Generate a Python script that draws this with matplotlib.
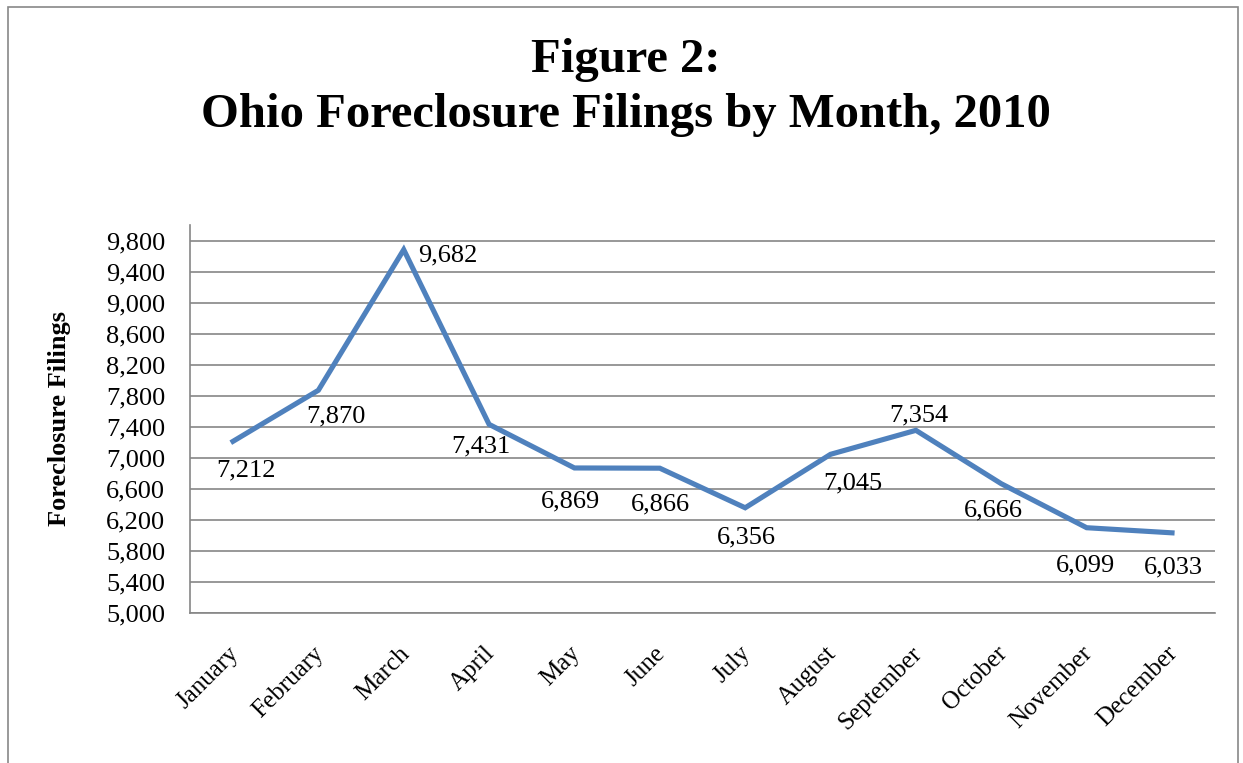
import numpy as np
import matplotlib
matplotlib.use("Agg")
from matplotlib import pyplot as plt
from matplotlib.patches import Rectangle
from matplotlib.ticker import FuncFormatter
import matplotlib.transforms as mtransforms

months = ["January", "February", "March", "April", "May", "June", "July",
          "August", "September", "October", "November", "December"]
filings = [7212, 7870, 9682, 7431, 6869, 6866, 6356, 7045, 7354, 6666, 6099, 6033]

# label offsets from each point, in pixels (x right, y up), text baseline
label_dx = [13, 18, 44, -8, -4, 1, 1, 22, 3, -8, -1, 1]
label_dy = [-35, -32, -12, -28, -39, -42, -36, -35, 9, -33, -44, -41]

plt.rcParams['font.family'] = ['Liberation Serif', 'DejaVu Serif']

fig = plt.figure(figsize=(12.43, 7.63), dpi=100)
ax = fig.add_axes([190.3/1243, 150/763, 1024.4/1243, 388/763])

x = np.arange(len(months))
ax.plot(x, filings, color='#4F81BD', lw=3.7, solid_joinstyle='miter', zorder=3)

for i, v in enumerate(filings):
    ax.annotate("{:,}".format(v), (x[i], v), xytext=(label_dx[i], label_dy[i]),
                textcoords='offset pixels', ha='center', va='baseline', fontsize=19)

ax.set_xlim(-0.5, len(months) - 0.5)
ax.set_ylim(5000, 10000)
ax.set_yticks(np.arange(5000, 10000, 400))
ax.yaxis.set_major_formatter(FuncFormatter(lambda v, p: "{:,}".format(int(v))))
ax.yaxis.grid(True, color='#868686', lw=1.2)
ax.set_axisbelow(True)
ax.set_xticks(x)
ax.set_xticklabels(months, rotation=45, ha='right', fontsize=18)
ax.tick_params(axis='both', length=0)
ax.tick_params(axis='y', labelsize=19, pad=18)
ax.tick_params(axis='x', pad=21)
shift = mtransforms.ScaledTranslation(10/100, 0, fig.dpi_scale_trans)
for lab in ax.get_xticklabels():
    lab.set_transform(lab.get_transform() + shift)
for s in ['top', 'right']:
    ax.spines[s].set_visible(False)
for s in ['left', 'bottom']:
    ax.spines[s].set_color('#868686')
    ax.spines[s].set_linewidth(1.2)

ax.set_ylabel("Foreclosure Filings", fontsize=19, fontweight='bold', labelpad=25)

fig.text(626/1243, 1 - 72/763, "Figure 2:", ha='center', va='baseline',
         fontsize=35, fontweight='bold')
fig.text(626/1243, 1 - 127/763, "Ohio Foreclosure Filings by Month, 2010",
         ha='center', va='baseline', fontsize=35, fontweight='bold')

fig.patches.append(Rectangle((8/1243, -0.02), 1230/1243, 1.02 - 7/763,
                             transform=fig.transFigure, fill=False,
                             edgecolor='#888888', lw=1.2))

fig.savefig("out.png", dpi=100)
